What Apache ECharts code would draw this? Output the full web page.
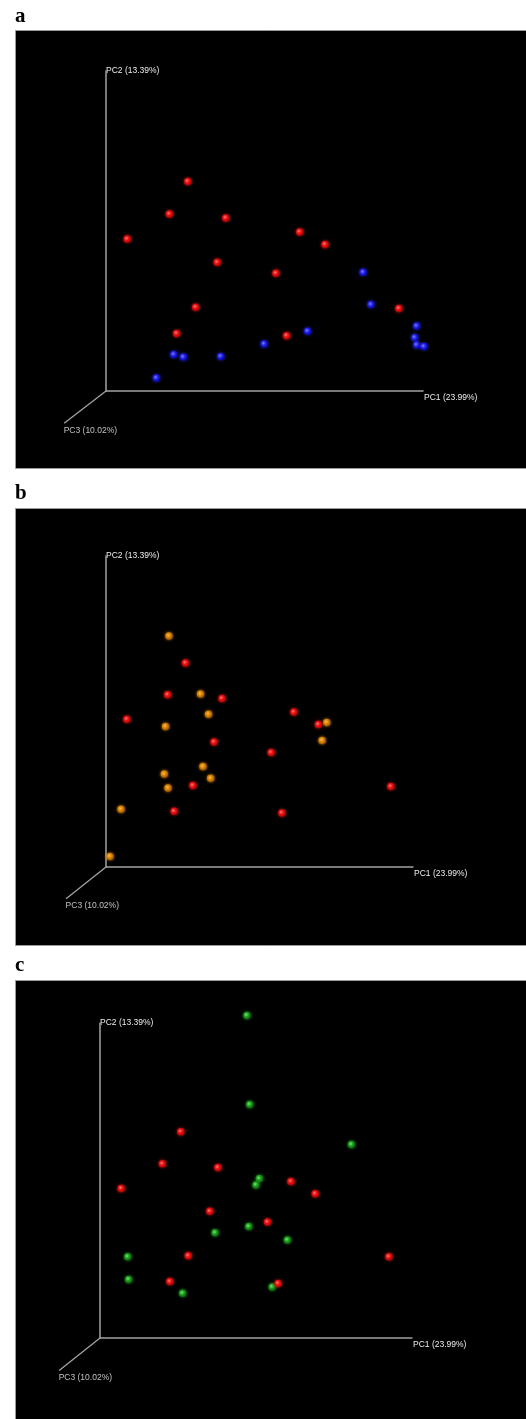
<!DOCTYPE html>
<html>
<head>
<meta charset="utf-8">
<script src="https://cdn.jsdelivr.net/npm/echarts@6/dist/echarts.min.js"></script>
<style>
html,body{margin:0;padding:0;background:#fff;}
#chart{width:526px;height:1419px;}
</style>
</head>
<body>
<div id="chart"></div>
<script>
// Projected PCoA coordinates, in % of the PC1 / PC2 axis lengths (origin = 0,0)
const panelLetters = ['a', 'b', 'c'];
const axisNames = ['PC1 (23.99%)', 'PC2 (13.39%)', 'PC3 (10.02%)'];
const pc3End = [[-13.2, -10.1], [-13.0, -10.2], [-13.1, -10.3]];

const redA = [[25.8,65.5],[20.0,55.3],[37.8,54.1],[6.7,47.5],[61.1,49.7],[69.1,45.8],[35.1,40.2],[53.6,36.8],[28.3,26.2],[92.4,25.8],[22.3,18.0],[57.0,17.3]];
const blueA = [[81.1,37.1],[83.6,27.0],[98.0,20.3],[97.4,16.7],[98.0,14.4],[100.3,13.9],[63.6,18.7],[49.9,14.7],[36.2,10.8],[24.4,10.6],[21.4,11.4],[15.9,4.1]];

const redB = [[25.9,65.6],[20.1,55.4],[37.8,54.2],[6.8,47.5],[61.2,49.8],[69.2,45.8],[35.2,40.2],[53.8,36.8],[28.3,26.2],[92.8,25.9],[22.2,17.9],[57.3,17.4]];
const orangeB = [[20.5,74.3],[30.8,55.6],[33.4,49.1],[19.4,45.2],[71.9,46.5],[70.4,40.7],[31.6,32.3],[19.0,29.9],[34.1,28.5],[20.2,25.4],[4.9,18.6],[1.3,3.4]];

const redC = [[25.9,65.5],[20.0,55.3],[37.8,54.1],[6.8,47.5],[61.2,49.7],[69.0,45.8],[35.2,40.2],[53.7,36.8],[28.3,26.1],[92.6,25.8],[22.4,17.9],[57.1,17.3]];
const greenC = [[47.1,102.4],[48.0,74.1],[80.6,61.4],[51.1,50.6],[50.0,48.6],[47.7,35.4],[36.9,33.4],[60.1,31.1],[8.9,25.8],[9.2,18.6],[26.5,14.2],[55.2,16.2]];

const panelSeries = [
  [{ data: redA, c: 'red' }, { data: blueA, c: 'blue' }],
  [{ data: orangeB, c: 'orange' }, { data: redB, c: 'red' }],
  [{ data: greenC, c: 'green' }, { data: redC, c: 'red' }]
];

// layout (pixels)
const panels = [
  { y: 30, h: 438, letterY: 22, grid: { left: 106, top: 71, width: 317, height: 320 } },
  { y: 508, h: 437, letterY: 499, grid: { left: 106, top: 556, width: 307, height: 311 } },
  { y: 980, h: 439, letterY: 971, grid: { left: 100, top: 1023, width: 312, height: 315 } }
];

const palette = {
  red:    ['#ffa0a0', '#ff1414', '#c00000'],
  blue:   ['#9a9aff', '#2a2aff', '#0000b8'],
  orange: ['#ffd080', '#f29200', '#a86000'],
  green:  ['#9aff9a', '#22b022', '#0c6a0c']
};
function ball(name) {
  const p = palette[name];
  return new echarts.graphic.RadialGradient(0.4, 0.4, 0.6, [
    { offset: 0, color: p[0] }, { offset: 0.45, color: p[1] }, { offset: 1, color: p[2] }
  ]);
}

const axisColor = '#a3a3a3';
const labelStyle = { color: '#ececec', fontSize: 8.5, fontFamily: 'Liberation Sans, Arial, sans-serif' };

const grids = [], xAxes = [], yAxes = [], series = [], graphics = [];
panels.forEach((p, i) => {
  graphics.push({
    type: 'rect', shape: { x: 15.5, y: p.y + 0.5, width: 520, height: p.h },
    style: { fill: '#000', stroke: '#9a9a9a', lineWidth: 1 }, silent: true, z: -10
  });
  graphics.push({
    type: 'text', left: 15, top: p.letterY - 16,
    style: { text: panelLetters[i], font: 'bold 21px "Liberation Serif", "DejaVu Serif", serif', fill: '#000' }
  });
  grids.push(Object.assign({ containLabel: false }, p.grid));
  xAxes.push({
    type: 'value', gridIndex: i, min: 0, max: 100,
    axisLine: { show: true, onZero: false, lineStyle: { color: axisColor, width: 1.5 } },
    axisTick: { show: false }, axisLabel: { show: false }, splitLine: { show: false },
    name: axisNames[0], nameLocation: 'end', nameGap: 1,
    nameTextStyle: Object.assign({ align: 'left', verticalAlign: 'top', padding: [2, 0, 0, 0] }, labelStyle)
  });
  yAxes.push({
    type: 'value', gridIndex: i, min: 0, max: 100,
    axisLine: { show: true, onZero: false, lineStyle: { color: axisColor, width: 1.5 } },
    axisTick: { show: false }, axisLabel: { show: false }, splitLine: { show: false },
    name: axisNames[1], nameLocation: 'end', nameGap: 0,
    nameTextStyle: Object.assign({ align: 'left', verticalAlign: 'middle' }, labelStyle)
  });
  // PC3 axis label at projected end of the PC3 axis
  series.push({
    type: 'scatter', xAxisIndex: i, yAxisIndex: i, clip: false, silent: true,
    symbolSize: 1, itemStyle: { color: 'rgba(0,0,0,0)' },
    data: [pc3End[i]],
    label: Object.assign({ show: true, formatter: axisNames[2], position: [0, 3], align: 'left', verticalAlign: 'top' }, labelStyle),
    animation: false, z: 1
  });
  panelSeries[i].forEach(s => {
    series.push({
      type: 'scatter', xAxisIndex: i, yAxisIndex: i, clip: false,
      symbolSize: 7.5, data: s.data,
      itemStyle: { color: ball(s.c), shadowBlur: 3, shadowColor: palette[s.c][1] },
      emphasis: { disabled: true }, animation: false, z: 3
    });
  });
});

const chart = echarts.init(document.getElementById('chart'));
chart.setOption({
  animation: false,
  backgroundColor: '#fff',
  grid: grids, xAxis: xAxes, yAxis: yAxes,
  graphic: graphics,
  series: series
});

// PC3 axis (diagonal, projected), positioned through each grid's scales
const pc3Lines = panels.map((p, i) => {
  const a = chart.convertToPixel({ gridIndex: i }, [0, 0]);
  const b = chart.convertToPixel({ gridIndex: i }, pc3End[i]);
  return {
    type: 'line', silent: true, z: 5,
    shape: { x1: a[0], y1: a[1], x2: b[0], y2: b[1] },
    style: { stroke: axisColor, lineWidth: 1.3 }
  };
});
chart.setOption({ graphic: graphics.concat(pc3Lines) });
</script>
</body>
</html>
